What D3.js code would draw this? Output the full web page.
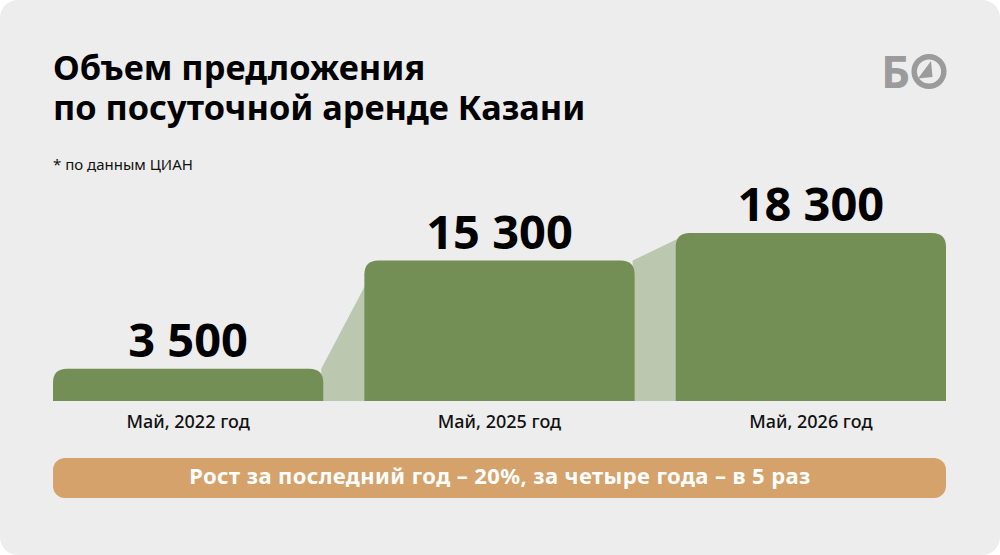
<!DOCTYPE html>
<html>
<head>
<meta charset="utf-8">
<script src="https://cdn.jsdelivr.net/npm/d3@7"></script>
<style>
  html, body { margin: 0; padding: 0; background: #ffffff; }
  svg { display: block; font-family: "Noto Sans", "Open Sans", sans-serif; }
</style>
</head>
<body>
<svg id="draw" width="1000" height="555"></svg>
<script>
// data
let categories = ["Май, 2022 год", "Май, 2025 год", "Май, 2026 год"];
let values = [3500, 15300, 18300];
let valueLabels = ["3 500", "15 300", "18 300"];
let titleLines = ["Объем предложения", "по посуточной аренде Казани"];
let note = "* по данным ЦИАН";
let banner = "Рост за последний год – 20%, за четыре года – в 5 раз";

let colors = { bg: "#ededed", bar: "#748f55", link: "#bbc8af", banner: "#d4a26a", logo: "#9b9b9b" };

let svg = d3.select("#draw");

// card background
svg.append("rect")
    .attr("x", 0).attr("y", 0)
    .attr("width", 1000).attr("height", 555)
    .attr("rx", 18)
    .attr("fill", colors.bg);

// title, one text per line
svg.selectAll("text.title")
    .data(titleLines)
    .enter()
    .append("text")
    .attr("class", "title")
    .attr("x", 53)
    .attr("y", (d, i) => 80 + i * 40)
    .attr("font-size", 34.3).attr("font-weight", 700)
    .attr("fill", "#000")
    .text(d => d);

svg.append("text")
    .attr("x", 53).attr("y", 170)
    .attr("font-size", 15)
    .attr("fill", "#111")
    .text(note);

// logo
let logo = svg.append("g").attr("fill", colors.logo);
logo.append("text")
    .attr("x", 881).attr("y", 88)
    .attr("font-size", 45).attr("font-weight", 700)
    .text("Б");
logo.append("circle")
    .attr("cx", 929).attr("cy", 71.5).attr("r", 14.8)
    .attr("fill", "none")
    .attr("stroke", colors.logo)
    .attr("stroke-width", 5.5);
logo.append("path")
    .attr("d", "M931,61 L932.5,77 L918,78.5 Z");

// scales
let base = 401;
let x = d3.scaleBand()
    .domain(categories)
    .range([53, 946])
    .paddingInner(0.132)
    .paddingOuter(0);
let y = d3.scaleLinear()
    .domain([0, 18300])
    .range([base, 233]);
let bw = x.bandwidth(), r = 14;

// connectors between bars
let links = d3.pairs(categories.map((c, i) => ({ c: c, v: values[i] })));
svg.selectAll("path.link")
    .data(links)
    .enter()
    .append("path")
    .attr("class", "link")
    .attr("fill", colors.link)
    .attr("d", p => {
        let x1 = x(p[0].c) + bw - 2, y1 = y(p[0].v);
        let x2 = x(p[1].c) + 14, y2 = y(p[1].v);
        return `M${x1},${y1}L${x2},${y2}L${x2},${base}L${x1},${base}Z`;
    });

// bars with rounded top corners
function barPath(x0, y0, w, h) {
    return `M${x0},${y0 + h}V${y0 + r}Q${x0},${y0} ${x0 + r},${y0}` +
        `H${x0 + w - r}Q${x0 + w},${y0} ${x0 + w},${y0 + r}V${y0 + h}Z`;
}
svg.selectAll("path.bar")
    .data(values)
    .enter()
    .append("path")
    .attr("class", "bar")
    .attr("fill", colors.bar)
    .attr("d", (v, i) => barPath(x(categories[i]), y(v), bw, base - y(v)));

// value labels
svg.selectAll("text.value")
    .data(values)
    .enter()
    .append("text")
    .attr("class", "value")
    .attr("x", (v, i) => x(categories[i]) + bw / 2)
    .attr("y", v => y(v) - 12)
    .attr("text-anchor", "middle")
    .attr("font-size", 47).attr("font-weight", 700)
    .attr("fill", "#000")
    .text((v, i) => valueLabels[i]);

// category labels
svg.selectAll("text.cat")
    .data(categories)
    .enter()
    .append("text")
    .attr("class", "cat")
    .attr("x", c => x(c) + bw / 2)
    .attr("y", 428)
    .attr("text-anchor", "middle")
    .attr("font-size", 18).attr("font-weight", 500)
    .attr("fill", "#111")
    .text(c => c);

// bottom banner
svg.append("rect")
    .attr("x", 53).attr("y", 458)
    .attr("width", 893).attr("height", 40)
    .attr("rx", 12)
    .attr("fill", colors.banner);
svg.append("text")
    .attr("x", 500).attr("y", 484)
    .attr("text-anchor", "middle")
    .attr("font-size", 22).attr("font-weight", 700)
    .attr("letter-spacing", 0.4)
    .attr("fill", "#fff")
    .text(banner);
</script>
</body>
</html>
